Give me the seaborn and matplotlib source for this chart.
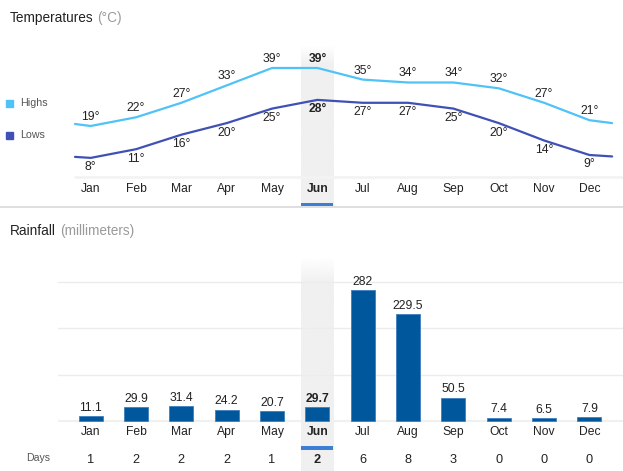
import numpy as np
import pandas as pd
import seaborn as sns
import matplotlib.pyplot as plt
from matplotlib.patches import Rectangle
from matplotlib.lines import Line2D
from matplotlib.transforms import blended_transform_factory

months = ['Jan', 'Feb', 'Mar', 'Apr', 'May', 'Jun', 'Jul', 'Aug', 'Sep', 'Oct', 'Nov', 'Dec']
highs = [19, 22, 27, 33, 39, 39, 35, 34, 34, 32, 27, 21]
lows = [8, 11, 16, 20, 25, 28, 27, 27, 25, 20, 14, 9]
rainfall = [11.1, 29.9, 31.4, 24.2, 20.7, 29.7, 282, 229.5, 50.5, 7.4, 6.5, 7.9]
rain_days = [1, 2, 2, 2, 1, 2, 6, 8, 3, 0, 0, 0]
current = 5  # highlighted month (Jun)

HIGH_C = '#4fc3f7'
LOW_C = '#3f51b5'
BAR_C = '#01579b'
ACCENT = '#3b7fd4'
TXT = '#222222'

sns.set_style('white')
plt.rcParams['font.family'] = ['Liberation Sans', 'DejaVu Sans']

W, H = 623, 471
fig = plt.figure(figsize=(W / 100, H / 100), dpi=100)


def px_axes(x0, y0, x1, y1):
    return fig.add_axes([x0 / W, 1 - y1 / H, (x1 - x0) / W, (y1 - y0) / H])


XLIM = (-0.721, 11.74)


def band(ax):
    # grey column behind the current month, fading out at the top
    n = 100
    t = np.linspace(0, 1, n)  # bottom -> top
    img = np.zeros((n, 1, 4))
    img[..., :3] = np.array([0xf0, 0xf0, 0xf0]) / 255
    img[:, 0, 3] = np.clip((1 - t) / 0.12, 0, 1)
    ylo, yhi = ax.get_ylim()
    ax.imshow(img, extent=[current - 0.353, current + 0.353, ylo, yhi],
              aspect='auto', origin='lower', zorder=0)
    ax.set_ylim(ylo, yhi)


def underline(ax, y0, y1):
    tr = blended_transform_factory(ax.transData, ax.transAxes)
    ax.add_patch(Rectangle((current - 0.353, y0), 0.706, y1 - y0, transform=tr,
                           color=ACCENT, clip_on=False, zorder=5, lw=0))


# ---------------- Temperatures ----------------
ax1 = px_axes(58, 45, 623, 206)
ax1.set_xlim(*XLIM)
ax1.set_ylim(-8.59, 46.93)

# lines wrap toward the neighbouring month at both ends
xs = [-0.346] + list(range(12)) + [11.5]
rows = []
for name, vals in [('Highs', highs), ('Lows', lows)]:
    first, last = vals[0], vals[-1]
    ext = [first + 0.346 * (last - first)] + vals + [last + 0.5 * (first - last)]
    rows += [{'x': x, 'temp': v, 'series': name} for x, v in zip(xs, ext)]
df_t = pd.DataFrame(rows)

band(ax1)
sns.lineplot(data=df_t, x='x', y='temp', hue='series', palette={'Highs': HIGH_C, 'Lows': LOW_C},
             linewidth=1.6, legend=False, ax=ax1, zorder=3)
ax1.set_xlim(*XLIM)
ax1.set_ylim(-8.59, 46.93)

for i, (h, l) in enumerate(zip(highs, lows)):
    fw = 'bold' if i == current else 'normal'
    ax1.annotate(f'{h}°', (i, h), xytext=(0, 6.5), textcoords='offset points',
                 ha='center', va='center', fontsize=8.7, color=TXT, fontweight=fw)
    ax1.annotate(f'{l}°', (i, l), xytext=(0, -6.8), textcoords='offset points',
                 ha='center', va='center', fontsize=8.7, color=TXT, fontweight=fw)

tr1 = blended_transform_factory(ax1.transData, ax1.transAxes)
for i, m in enumerate(months):
    ax1.text(i, 0.106, m, transform=tr1, ha='center', va='center', fontsize=8.7, color=TXT,
             fontweight='bold' if i == current else 'normal')
ax1.axhline(1.4, xmin=(75 - 58) / 565, color='#f3f3f3', lw=2, zorder=1)
underline(ax1, 0.0, 0.019)
ax1.axis('off')

# ---------------- Rainfall ----------------
ax2 = px_axes(58, 257, 623, 471)
ax2.set_ylim(-107.6, 353.1)
ax2.set_xlim(*XLIM)
band(ax2)
for g in [100, 200, 300]:
    ax2.axhline(g, color='#ececec', lw=1, zorder=1)
ax2.axhline(0, color='#f0f0f0', lw=1.5, zorder=1)

df_r = pd.DataFrame({'month': months, 'rain': rainfall})
sns.barplot(data=df_r, x='month', y='rain', color=BAR_C, saturation=1, width=0.53,
            ax=ax2, zorder=3, edgecolor='#3f7fbf', linewidth=0.6)
ax2.set_xlim(*XLIM)
ax2.set_ylim(-107.6, 353.1)

tr2 = blended_transform_factory(ax2.transData, ax2.transAxes)
for i, (r, d) in enumerate(zip(rainfall, rain_days)):
    fw = 'bold' if i == current else 'normal'
    ax2.annotate(f'{r:g}', (i, r), xytext=(0, 6), textcoords='offset points',
                 ha='center', va='center', fontsize=8.7, color=TXT, fontweight=fw)
    ax2.text(i, 0.18, months[i], transform=tr2, ha='center', va='center', fontsize=8.7,
             color=TXT, fontweight=fw)
    ax2.text(i, 0.0514, str(d), transform=tr2, ha='center', va='center', fontsize=9.2,
             color=TXT, fontweight=fw)
ax2.text(-20 / 565, 0.06, 'Days', transform=ax2.transAxes, ha='center', va='center',
         fontsize=7.6, color='#555555')
underline(ax2, 0.100, 0.1145)
ax2.axis('off')

# ---------------- titles, legend, separator ----------------
renderer = fig.canvas.get_renderer()


def title(y, main, unit):
    t = fig.text(10 / W, 1 - y / H, main, ha='left', va='center', fontsize=9.8, color=TXT)
    bb = t.get_window_extent(renderer)
    fig.text((bb.x1 + 4) / W, 1 - y / H, unit, ha='left', va='center', fontsize=9.8, color='#9a9a9a')


title(18, 'Temperatures', '(°C)')
title(231, 'Rainfall', '(millimeters)')

for y, name, c in [(103, 'Highs', HIGH_C), (135.5, 'Lows', LOW_C)]:
    fig.add_artist(Rectangle((6 / W, 1 - (y + 3.5) / H), 7 / W, 7 / H, color=c,
                             transform=fig.transFigure))
    fig.text(20 / W, 1 - y / H, name, ha='left', va='center', fontsize=7.7, color='#555555')

fig.add_artist(Line2D([0, 1], [1 - 206.5 / H] * 2, color='#d9d9d9', lw=1.2,
                      transform=fig.transFigure))

fig.savefig('out.png', dpi=100)
